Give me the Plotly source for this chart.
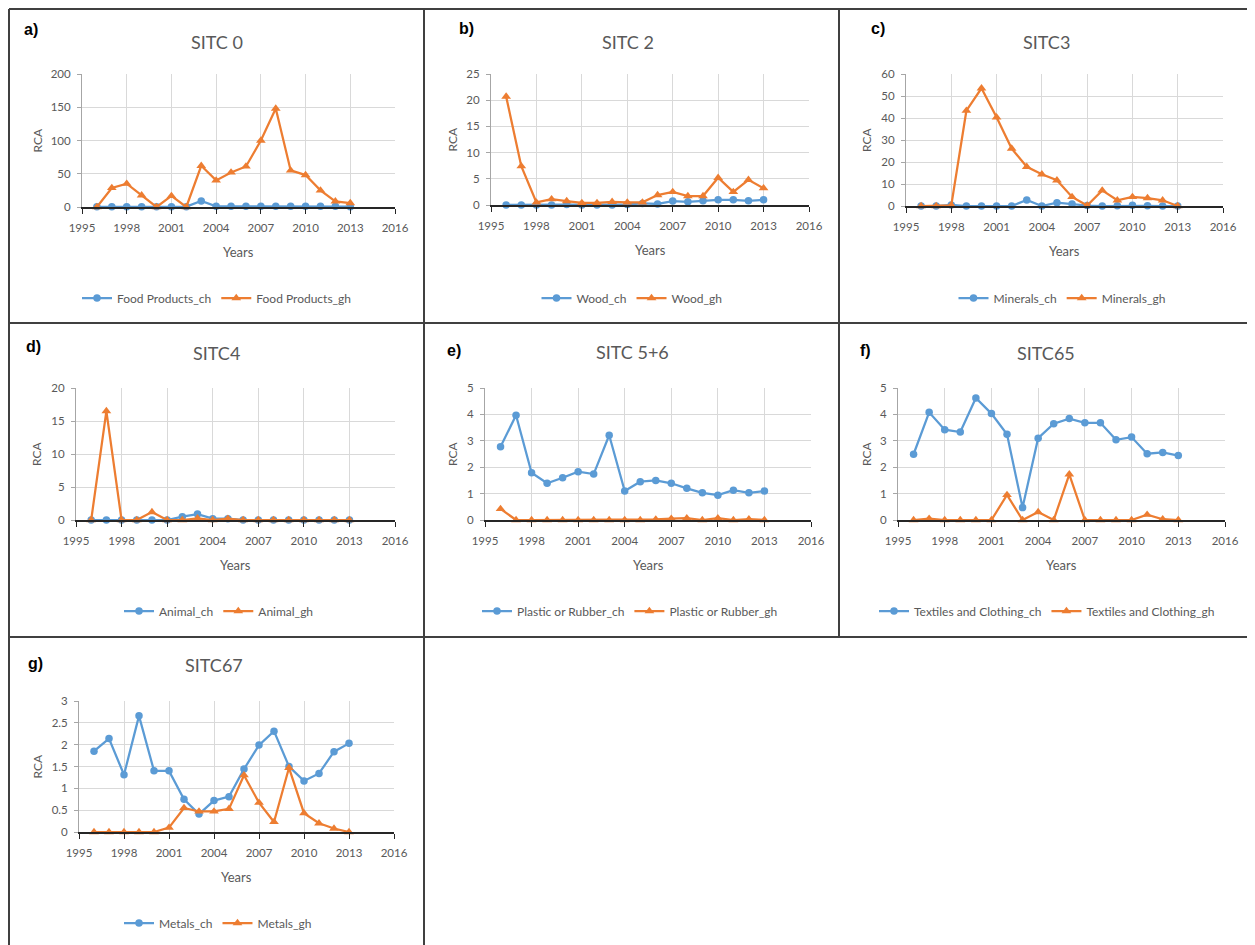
import plotly.graph_objects as go

years = list(range(1996, 2014))

food_ch = [0.3, 0.3, 0.3, 0.3, 0.3, 0.3, 0.5, 9, 1, 1, 1, 1, 1, 1, 1, 1, 1, 0.5]
food_gh = [0, 28.6, 35, 17.6, 0, 16.6, 0, 62, 40, 52, 61, 100, 148, 55, 48, 25, 8.5, 6]

wood_ch = [0, 0, 0, 0, 0.1, 0, 0, 0, 0.1, 0.3, 0.2, 0.75, 0.6, 0.8, 1.0, 1.0, 0.8, 1.0]
wood_gh = [20.7, 7.4, 0.5, 1.1, 0.76, 0.4, 0.4, 0.6, 0.5, 0.5, 1.9, 2.5, 1.7, 1.7, 5.2, 2.5, 4.8, 3.2]

minerals_ch = [0, 0, 0.5, 0, 0, 0, 0, 2.7, 0, 1.5, 0.9, 0.2, 0, 0.1, 0.3, 0.1, 0, 0]
minerals_gh = [0, 0, 0.3, 43.3, 53.5, 40.3, 26.1, 17.8, 14.4, 11.7, 4.1, 0.2, 7.1, 2.6, 4.1, 3.6, 2.6, 0]

animal_ch = [0, 0, 0, 0, 0, 0, 0.5, 0.9, 0.2, 0.2, 0, 0, 0, 0, 0, 0, 0, 0]
animal_gh = [0, 16.5, 0, 0, 1.2, 0, 0, 0.25, 0, 0.2, 0, 0, 0, 0, 0, 0, 0, 0]

plastic_ch = [2.77, 3.97, 1.79, 1.39, 1.6, 1.83, 1.74, 3.21, 1.1, 1.45, 1.5, 1.39, 1.2, 1.03, 0.94, 1.13, 1.03, 1.1]
plastic_gh = [0.42, 0, 0, 0, 0, 0, 0, 0, 0, 0, 0.02, 0.05, 0.07, 0, 0.07, 0, 0.03, 0]

textiles_ch = [2.49, 4.08, 3.42, 3.33, 4.62, 4.03, 3.25, 0.47, 3.1, 3.65, 3.84, 3.68, 3.68, 3.04, 3.14, 2.51, 2.56, 2.44]
textiles_gh = [0, 0.05, 0, 0, 0, 0, 0.95, 0, 0.3, 0, 1.73, 0, 0, 0, 0, 0.2, 0.03, 0]

metals_ch = [1.85, 2.14, 1.31, 2.66, 1.40, 1.40, 0.75, 0.41, 0.72, 0.81, 1.44, 1.99, 2.31, 1.5, 1.17, 1.34, 1.84, 2.03]
metals_gh = [0, 0, 0, 0, 0, 0.1, 0.55, 0.47, 0.47, 0.53, 1.3, 0.67, 0.23, 1.47, 0.43, 0.2, 0.08, 0]

panel_letters = ["a)", "b)", "c)", "d)", "e)", "f)", "g)"]
panel_titles = ["SITC 0", "SITC 2", "SITC3", "SITC4", "SITC 5+6", "SITC65", "SITC67"]
series_names = [
    ("Food Products_ch", "Food Products_gh"),
    ("Wood_ch", "Wood_gh"),
    ("Minerals_ch", "Minerals_gh"),
    ("Animal_ch", "Animal_gh"),
    ("Plastic or Rubber_ch", "Plastic or Rubber_gh"),
    ("Textiles and Clothing_ch", "Textiles and Clothing_gh"),
    ("Metals_ch", "Metals_gh"),
]
series_values = [
    (food_ch, food_gh), (wood_ch, wood_gh), (minerals_ch, minerals_gh),
    (animal_ch, animal_gh), (plastic_ch, plastic_gh), (textiles_ch, textiles_gh),
    (metals_ch, metals_gh),
]
y_max = [200, 25, 60, 20, 5, 5, 3]
y_dtick = [50, 5, 10, 5, 1, 1, 0.5]

W, H = 1255, 945
PAGE_OFFSET = 8  # default body margin of the html page
# layout geometry in screen pixels (left, right, top, bottom of plot area)
plot_px = [
    (82, 395, 74, 207), (491, 809, 74, 205), (906, 1223, 74, 206),
    (76, 395, 388, 520), (485, 811, 388, 520), (898, 1225, 388, 520),
    (79, 394, 701, 832),
]
letter_px = [(31, 29), (466, 28), (878, 28), (33, 346), (454, 350), (865, 350), (35, 663)]
title_px = [(217, 42), (628, 42), (1046, 42), (216, 353), (632, 352), (1046, 353), (214, 665)]
legend_px = [(217, 298), (632, 298), (1062, 298), (219, 611), (630, 611), (1047, 611), (218, 923)]
rca_x = [37, 452, 867, 37, 453, 867, 37]

BLUE = "#5B9BD5"
ORANGE = "#ED7D31"
FONT = "Lato"
TXT = "#595959"

fig = go.Figure()
layout = dict(
    width=W, height=H, margin=dict(l=0, r=0, t=0, b=0, autoexpand=False),
    paper_bgcolor="white", plot_bgcolor="white",
    font=dict(family=FONT, size=12, color=TXT),
    showlegend=True,
)
annotations = []
shapes = []

def px_x(x):
    return (x - PAGE_OFFSET) / W

def px_y(y):
    return 1 - (y - PAGE_OFFSET) / H

for i in range(7):
    n = i + 1
    xa = "x" if n == 1 else f"x{n}"
    ya = "y" if n == 1 else f"y{n}"
    leg = "legend" if n == 1 else f"legend{n}"
    l, r, t, b = plot_px[i]
    ch, gh = series_values[i]
    nch, ngh = series_names[i]
    fig.add_trace(go.Scatter(
        x=years, y=ch, name=nch, mode="lines+markers", xaxis=xa, yaxis=ya, legend=leg,
        line=dict(color=BLUE, width=2.25), marker=dict(symbol="circle", size=7.5, color=BLUE),
        cliponaxis=False,
    ))
    fig.add_trace(go.Scatter(
        x=years, y=gh, name=ngh, mode="lines+markers", xaxis=xa, yaxis=ya, legend=leg,
        line=dict(color=ORANGE, width=2.25), marker=dict(symbol="triangle-up", size=8.5, color=ORANGE),
        cliponaxis=False,
    ))
    xkey = "xaxis" if n == 1 else f"xaxis{n}"
    ykey = "yaxis" if n == 1 else f"yaxis{n}"
    layout[xkey] = dict(
        domain=[px_x(l), px_x(r)], anchor=ya, range=[1995, 2016],
        tick0=1995, dtick=3, showgrid=True, gridcolor="#D9D9D9", gridwidth=1,
        showline=True, linecolor="#262626", linewidth=1.5, ticks="outside", ticklen=5,
        tickcolor="#262626", tickfont=dict(family=FONT, size=11.5, color=TXT),
        ticklabelstandoff=4,
        zeroline=False, mirror=False, fixedrange=True, automargin=False,
    )
    layout[ykey] = dict(
        domain=[px_y(b), px_y(t)], anchor=xa, range=[0, y_max[i]],
        dtick=y_dtick[i], showgrid=True, gridcolor="#D9D9D9", gridwidth=1,
        showline=True, linecolor="#A6A6A6", linewidth=1, ticks="outside", ticklen=4,
        tickcolor="#A6A6A6", tickfont=dict(family=FONT, size=11.5, color=TXT),
        ticklabelstandoff=4,
        zeroline=False, fixedrange=True, automargin=False,
    )
    lx, ly = legend_px[i]
    layout[leg] = dict(
        orientation="h", x=px_x(lx), y=px_y(ly), xanchor="center", yanchor="middle",
        font=dict(family=FONT, size=12, color=TXT), bgcolor="rgba(0,0,0,0)",
        itemwidth=30, tracegroupgap=0,
    )
    annotations.append(dict(
        text=f"<b>{panel_letters[i]}</b>", x=px_x(letter_px[i][0]), y=px_y(letter_px[i][1]),
        xref="paper", yref="paper", showarrow=False, xanchor="center", yanchor="middle",
        font=dict(family="Liberation Sans", size=16, color="black"),
    ))
    annotations.append(dict(
        text=panel_titles[i], x=px_x(title_px[i][0]), y=px_y(title_px[i][1]),
        xref="paper", yref="paper", showarrow=False, xanchor="center", yanchor="middle",
        font=dict(family=FONT, size=18, color=TXT),
    ))
    annotations.append(dict(
        text="Years", x=px_x((l + r) / 2), y=px_y(b + 45),
        xref="paper", yref="paper", showarrow=False, xanchor="center", yanchor="middle",
        font=dict(family=FONT, size=13, color=TXT),
    ))
    annotations.append(dict(
        text="RCA", x=px_x(rca_x[i]), y=px_y((t + b) / 2), textangle=-90,
        xref="paper", yref="paper", showarrow=False, xanchor="center", yanchor="middle",
        font=dict(family=FONT, size=12, color=TXT),
    ))

# panel borders
border = dict(type="line", xref="paper", yref="paper", line=dict(color="#404040", width=2))
cols = [9, 424, 839, 1253]
rows = [9, 323, 637]
for y in rows:
    shapes.append(dict(border, x0=px_x(9), x1=px_x(1253), y0=px_y(y), y1=px_y(y)))
for x in cols:
    shapes.append(dict(border, x0=px_x(x), x1=px_x(x), y0=px_y(9), y1=px_y(637)))
for x in cols[:2]:
    shapes.append(dict(border, x0=px_x(x), x1=px_x(x), y0=px_y(637), y1=px_y(953)))

layout["annotations"] = annotations
layout["shapes"] = shapes
fig.update_layout(**layout)
fig.write_html("out.html")
